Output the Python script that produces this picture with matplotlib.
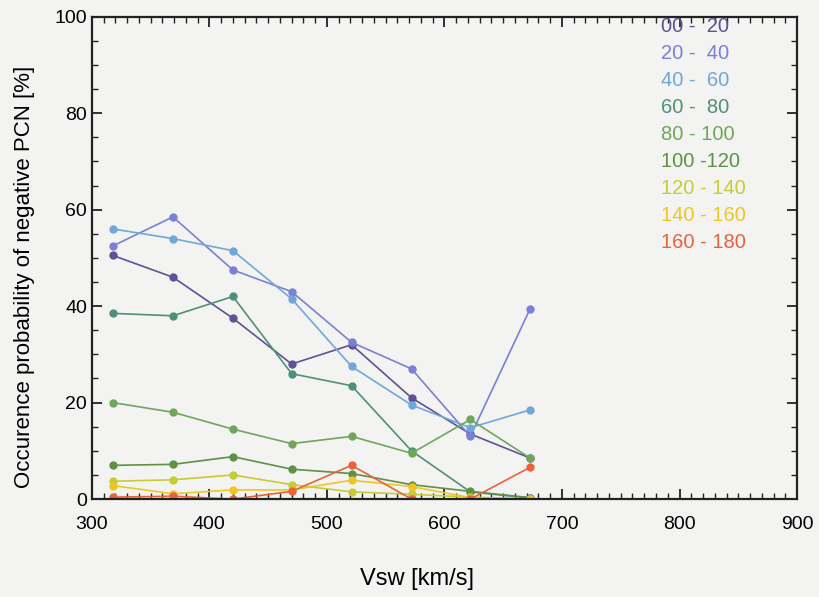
import matplotlib.pyplot as plt
from matplotlib.ticker import MultipleLocator

plt.rcParams['font.family'] = ['Liberation Sans', 'DejaVu Sans']

# solar wind speed bins [km/s]
vsw = [318, 369, 420, 470, 521, 572, 622, 673]

# occurrence probability [%] per clock-angle range
p_000_020 = [50.5, 46.0, 37.5, 28.0, 32.0, 21.0, 13.5, 8.5]
p_020_040 = [52.5, 58.5, 47.5, 43.0, 32.5, 27.0, 13.0, 39.5]
p_040_060 = [56.0, 54.0, 51.5, 41.5, 27.5, 19.5, 14.8, 18.5]
p_060_080 = [38.5, 38.0, 42.0, 26.0, 23.5, 10.0, 1.5, 0.2]
p_080_100 = [20.0, 18.0, 14.5, 11.5, 13.0, 9.5, 16.5, 8.5]
p_100_120 = [7.0, 7.2, 8.8, 6.2, 5.3, 3.0, 1.6, 0.3]
p_120_140 = [3.7, 4.0, 5.0, 3.0, 1.5, 1.0, 0.4, 0.0]
p_140_160 = [2.8, 1.1, 1.9, 1.9, 3.9, 2.6, 0.3, 0.0]
p_160_180 = [0.4, 0.6, 0.0, 1.6, 7.0, 0.0, 0.0, 6.6]

labels = ['00 -  20', '20 -  40', '40 -  60', '60 -  80', '80 - 100',
          '100 -120', '120 - 140', '140 - 160', '160 - 180']
colors = ['#5e5196', '#7a80d4', '#71a6da', '#50907a', '#70a65c',
          '#5f9046', '#c6cc36', '#efc526', '#e8623e']
series = [p_000_020, p_020_040, p_040_060, p_060_080, p_080_100,
          p_100_120, p_120_140, p_140_160, p_160_180]

bg = '#f3f4f2'
fig = plt.figure(figsize=(8.2, 5.97), dpi=100, facecolor=bg)
ax = fig.add_axes([0.112, 0.164, 0.86, 0.808], facecolor=bg)

for vals, c, lab in zip(series, colors, labels):
    ax.plot(vsw, vals, color=c, lw=1.2, marker='o', ms=5, label=lab)

ax.set_xlim(300, 900)
ax.set_ylim(0, 100)
ax.xaxis.set_major_locator(MultipleLocator(100))
ax.xaxis.set_minor_locator(MultipleLocator(10))
ax.yaxis.set_major_locator(MultipleLocator(20))
ax.yaxis.set_minor_locator(MultipleLocator(5))
ax.tick_params(which='both', direction='in', top=True, right=True,
               color='#222222', labelsize=14)
ax.tick_params(axis='x', pad=12)
ax.tick_params(which='major', length=7, width=1.3)
ax.tick_params(which='minor', length=4, width=1.0)
for s in ax.spines.values():
    s.set_linewidth(1.6)
    s.set_color('#222222')

ax.set_xlabel('Vsw [km/s]', fontsize=17)
ax.xaxis.set_label_coords(0.461, -0.143)
ax.set_ylabel('Occurence probability of negative PCN [%]', fontsize=16)
ax.yaxis.set_label_coords(-0.080, 0.46)

leg = ax.legend(loc='upper left', bbox_to_anchor=(0.795, 1.017), frameon=False,
                handlelength=0, handletextpad=0, labelcolor='linecolor',
                fontsize=14.5, labelspacing=0.40, borderaxespad=0.0)
for h in leg.legend_handles:
    h.set_visible(False)

fig.savefig('out.png', dpi=100, facecolor=bg)
